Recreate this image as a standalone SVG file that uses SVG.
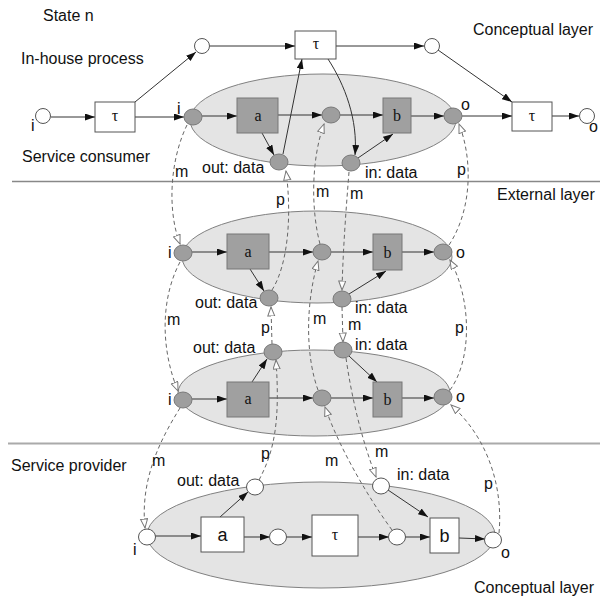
<svg xmlns="http://www.w3.org/2000/svg" width="600" height="599" viewBox="0 0 600 599">
<style>
text{font-family:"Liberation Sans",Arial,sans-serif;font-size:16px;fill:#111}
.ser{font-family:"Liberation Serif","Times New Roman",serif;font-size:16px;text-anchor:middle}
.box{font-size:18px;text-anchor:middle}
.ell{fill:#e4e4e4;stroke:#808080;stroke-width:1}
.gn{fill:#9e9e9e;stroke:#7a7a7a;stroke-width:1}
.gb{fill:#a0a0a0;stroke:#777;stroke-width:1}
.wn{fill:#fff;stroke:#555;stroke-width:1}
.sl{fill:none;stroke:#333;stroke-width:1;marker-end:url(#arr)}
.dl{fill:none;stroke:#666;stroke-width:1;stroke-dasharray:4 3;marker-end:url(#open)}
.sep{stroke-width:1.3}
</style>
<defs>
<marker id="arr" markerUnits="userSpaceOnUse" markerWidth="11" markerHeight="8" refX="10" refY="3.5" orient="auto"><path d="M0,0 L10,3.5 L0,7 z" fill="#111"/></marker>
<marker id="open" markerUnits="userSpaceOnUse" markerWidth="11" markerHeight="9" refX="9.5" refY="4" orient="auto"><path d="M0.5,0.5 L9.5,4 L0.5,7.5 z" fill="#fff" stroke="#777" stroke-width="1"/></marker>
</defs>
<rect width="600" height="599" fill="#fff"/>

<g id="separators">
<line x1="12" y1="181.5" x2="600" y2="181.5" stroke="#888" class="sep"/>
<line x1="8" y1="443.5" x2="600" y2="443.5" stroke="#aaa" stroke-width="2"/>
</g>

<g id="layer-labels">
<text x="43" y="21">State n</text>
<text x="21" y="64">In-house process</text>
<text x="22" y="162">Service consumer</text>
<text x="473" y="35">Conceptual layer</text>
<text x="497" y="200">External layer</text>
<text x="11" y="471">Service provider</text>
<text x="474" y="593">Conceptual layer</text>
</g>

<!-- ellipses (process containers) -->
<g id="consumer-process"><ellipse class="ell" cx="323" cy="120" rx="133" ry="46"/></g>
<g id="external-upper-process"><ellipse class="ell" cx="317" cy="257" rx="135" ry="46"/></g>
<g id="external-lower-process"><ellipse class="ell" cx="314" cy="393" rx="136" ry="43"/></g>
<g id="provider-process"><ellipse class="ell" cx="321" cy="535" rx="174" ry="53"/></g>

<g id="connectors">
<!-- conceptual in-house -->
<line class="sl" x1="51" y1="117" x2="95" y2="117"/>
<line class="sl" x1="135" y1="117" x2="184" y2="117"/>
<line class="sl" x1="135" y1="102" x2="196" y2="52"/>
<line class="sl" x1="210" y1="46" x2="295" y2="46"/>
<line class="sl" x1="336" y1="46" x2="424" y2="46"/>
<line class="sl" x1="438" y1="50" x2="512" y2="102"/>
<line class="sl" x1="552" y1="116" x2="579" y2="116"/>
<line class="sl" x1="462" y1="116" x2="512" y2="116"/>
<!-- consumer -->
<line class="sl" x1="202" y1="116" x2="237" y2="116"/>
<line class="sl" x1="278" y1="115" x2="322" y2="115"/>
<line class="sl" x1="340" y1="115" x2="383" y2="115"/>
<line class="sl" x1="411" y1="116" x2="444" y2="116"/>
<line class="sl" x1="262" y1="133" x2="274" y2="155"/>
<line class="sl" x1="358" y1="158" x2="393" y2="134"/>
<line class="sl" x1="283" y1="154" x2="302" y2="59"/>
<path class="sl" d="M328,59 C345,85 358,120 355,155"/>
<!-- external upper -->
<line class="sl" x1="192" y1="252" x2="227" y2="252"/>
<line class="sl" x1="269" y1="252" x2="313" y2="252"/>
<line class="sl" x1="331" y1="252" x2="373" y2="252"/>
<line class="sl" x1="402" y1="252" x2="434" y2="252"/>
<line class="sl" x1="250" y1="269" x2="264" y2="291"/>
<line class="sl" x1="349" y1="294" x2="386" y2="271"/>
<!-- external lower -->
<line class="sl" x1="192" y1="399" x2="227" y2="399"/>
<line class="sl" x1="269" y1="398" x2="313" y2="398"/>
<line class="sl" x1="331" y1="398" x2="373" y2="398"/>
<line class="sl" x1="402" y1="398" x2="434" y2="398"/>
<line class="sl" x1="252" y1="382" x2="267" y2="359"/>
<line class="sl" x1="349" y1="356" x2="377" y2="382"/>
<!-- provider -->
<line class="sl" x1="155" y1="536" x2="201" y2="536"/>
<line class="sl" x1="244" y1="537" x2="270" y2="537"/>
<line class="sl" x1="286" y1="537" x2="312" y2="537"/>
<line class="sl" x1="358" y1="537" x2="389" y2="537"/>
<line class="sl" x1="405" y1="537" x2="430" y2="537"/>
<line class="sl" x1="459" y1="538" x2="485" y2="539"/>
<line class="sl" x1="220" y1="517" x2="248" y2="492"/>
<line class="sl" x1="388" y1="490" x2="428" y2="517"/>
<!-- message / protocol mappings (dashed) -->
<path class="dl" d="M187,125 C170,160 167,210 180,244"/>
<path class="dl" d="M272,290 C288,265 292,215 286,171"/>
<path class="dl" d="M320,244 C311,210 311,160 324,124"/>
<path class="dl" d="M349,172 C346,210 343,250 342,290"/>
<path class="dl" d="M449,245 C472,210 473,160 459,124"/>
<path class="dl" d="M180,262 C160,300 161,350 178,391"/>
<path class="dl" d="M272,344 L271,307"/>
<path class="dl" d="M318,390 C307,360 304,310 318,261"/>
<path class="dl" d="M342,307 L343,342"/>
<path class="dl" d="M450,390 C472,360 472,300 450,260"/>
<path class="dl" d="M180,408 C160,440 140,480 145,528"/>
<path class="dl" d="M259,480 C275,450 280,420 276,360"/>
<path class="dl" d="M392,530 C370,500 340,450 325,407"/>
<path class="dl" d="M346,358 C352,400 362,440 376,477"/>
<path class="dl" d="M499,533 C503,490 490,440 451,405"/>
</g>

<g id="connector-labels">
<text x="175" y="177">m</text>
<text x="276" y="205">p</text>
<text x="316" y="197">m</text>
<text x="350" y="199">m</text>
<text x="457" y="175">p</text>
<text x="167" y="325">m</text>
<text x="261" y="333">p</text>
<text x="313" y="324">m</text>
<text x="348" y="330">m</text>
<text x="455" y="333">p</text>
<text x="152" y="466">m</text>
<text x="261" y="459">p</text>
<text x="325" y="466">m</text>
<text x="375" y="457">m</text>
<text x="484" y="489">p</text>
</g>

<!-- conceptual in-house nodes -->
<g id="c-start"><circle class="wn" cx="43" cy="116" r="7.5"/><text x="31" y="131">i</text></g>
<g id="c-tau1"><rect class="wn" x="95" y="102" width="40" height="30"/><text class="ser" x="115" y="121">τ</text></g>
<g id="c-p1"><circle class="wn" cx="202" cy="46" r="7.5"/></g>
<g id="c-tau2"><rect class="wn" x="295" y="31" width="41" height="28"/><text class="ser" x="316" y="49">τ</text></g>
<g id="c-p2"><circle class="wn" cx="432" cy="46" r="7.5"/></g>
<g id="c-tau3"><rect class="wn" x="512" y="102" width="40" height="29"/><text class="ser" x="532" y="121">τ</text></g>
<g id="c-end"><circle class="wn" cx="587" cy="116" r="7.5"/><text x="589" y="132">o</text></g>

<!-- consumer nodes -->
<g id="sc-i"><ellipse class="gn" cx="193" cy="117" rx="9" ry="8"/><text x="177" y="114">i</text></g>
<g id="sc-a"><rect class="gb" x="237" y="98" width="41" height="35"/><text class="ser" x="258" y="121">a</text></g>
<g id="sc-mid"><ellipse class="gn" cx="331" cy="115" rx="9" ry="8"/></g>
<g id="sc-b"><rect class="gb" x="383" y="98" width="28" height="35"/><text class="ser" x="397" y="121">b</text></g>
<g id="sc-o"><ellipse class="gn" cx="453" cy="116" rx="9" ry="8"/><text x="461" y="110">o</text></g>
<g id="sc-out"><ellipse class="gn" cx="279" cy="162" rx="9" ry="8"/><text x="202" y="173">out: data</text></g>
<g id="sc-in"><ellipse class="gn" cx="351" cy="163" rx="9" ry="8"/><text x="365" y="178">in: data</text></g>

<!-- external upper nodes -->
<g id="eu-i"><ellipse class="gn" cx="183" cy="253" rx="9" ry="8"/><text x="168" y="258">i</text></g>
<g id="eu-a"><rect class="gb" x="227" y="234" width="42" height="35"/><text class="ser" x="248" y="257">a</text></g>
<g id="eu-mid"><ellipse class="gn" cx="322" cy="252" rx="9" ry="8"/></g>
<g id="eu-b"><rect class="gb" x="373" y="234" width="29" height="36"/><text class="ser" x="387.5" y="258">b</text></g>
<g id="eu-o"><ellipse class="gn" cx="443" cy="252" rx="9" ry="8"/><text x="456" y="258">o</text></g>
<g id="eu-out"><ellipse class="gn" cx="269" cy="298" rx="9" ry="8"/><text x="195" y="308">out: data</text></g>
<g id="eu-in"><ellipse class="gn" cx="342" cy="299" rx="9" ry="8"/><text x="355" y="313">in: data</text></g>

<!-- external lower nodes -->
<g id="el-i"><ellipse class="gn" cx="183" cy="400" rx="9" ry="8"/><text x="168" y="405">i</text></g>
<g id="el-a"><rect class="gb" x="227" y="382" width="42" height="35"/><text class="ser" x="248" y="404">a</text></g>
<g id="el-mid"><ellipse class="gn" cx="322" cy="398" rx="9" ry="8"/></g>
<g id="el-b"><rect class="gb" x="373" y="382" width="29" height="35"/><text class="ser" x="387.5" y="405">b</text></g>
<g id="el-o"><ellipse class="gn" cx="443" cy="397" rx="9" ry="8"/><text x="456" y="402">o</text></g>
<g id="el-out"><ellipse class="gn" cx="273" cy="352" rx="9" ry="8"/><text x="193" y="353">out: data</text></g>
<g id="el-in"><ellipse class="gn" cx="343" cy="350" rx="9" ry="8"/><text x="355" y="350">in: data</text></g>

<!-- provider nodes -->
<g id="sp-i"><ellipse class="wn" cx="147" cy="537" rx="8.5" ry="8"/><text x="133" y="555">i</text></g>
<g id="sp-a"><rect class="wn" x="201" y="517" width="43" height="35"/><text class="box" x="222.5" y="541">a</text></g>
<g id="sp-p1"><ellipse class="wn" cx="278" cy="537" rx="8.5" ry="8"/></g>
<g id="sp-tau"><rect class="wn" x="312" y="515" width="46" height="41"/><text class="ser" x="335" y="540">τ</text></g>
<g id="sp-p2"><ellipse class="wn" cx="397" cy="537" rx="8.5" ry="8"/></g>
<g id="sp-b"><rect class="wn" x="430" y="518" width="29" height="35"/><text class="box" x="444.5" y="542">b</text></g>
<g id="sp-o"><ellipse class="wn" cx="493" cy="540" rx="8.5" ry="8"/><text x="501" y="558">o</text></g>
<g id="sp-out"><ellipse class="wn" cx="255" cy="487" rx="8.5" ry="8"/><text x="177" y="486">out: data</text></g>
<g id="sp-in"><ellipse class="wn" cx="381" cy="486" rx="8.5" ry="8"/><text x="397" y="480">in: data</text></g>
</svg>
